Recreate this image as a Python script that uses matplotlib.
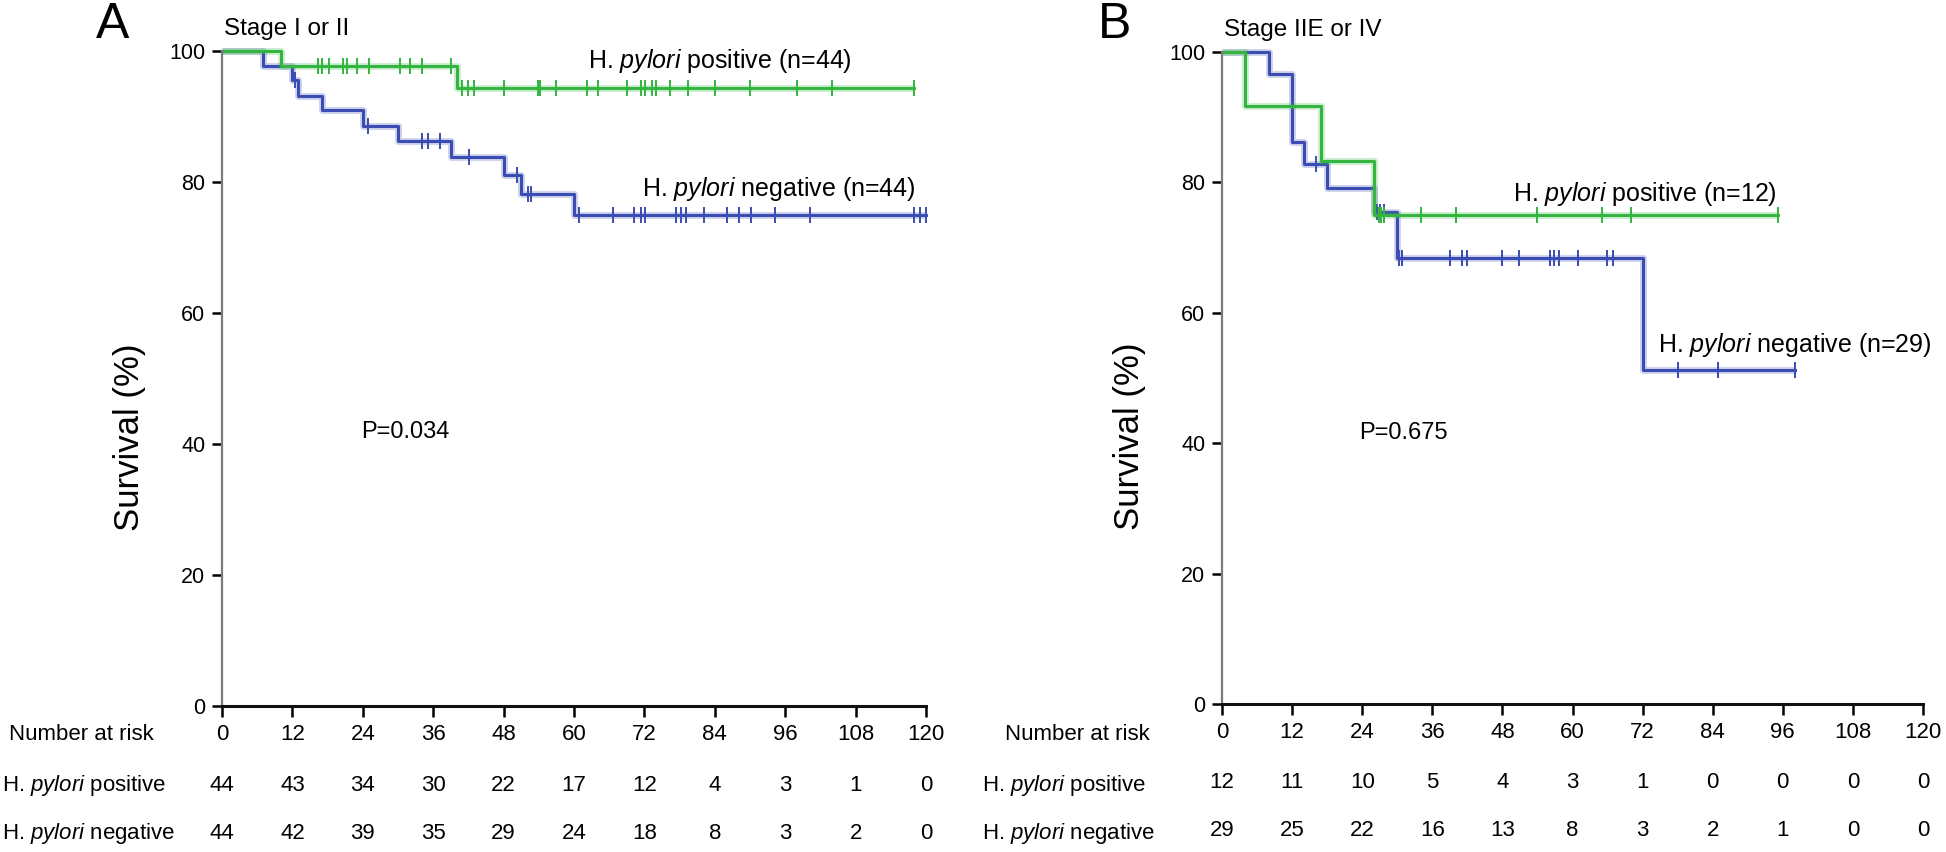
import numpy as np
import matplotlib
matplotlib.use("Agg")
import matplotlib.pyplot as plt

plt.rcParams['font.family'] = ['Liberation Sans', 'DejaVu Sans']
plt.rcParams['mathtext.fontset'] = 'custom'
plt.rcParams['mathtext.rm'] = 'Liberation Sans'
plt.rcParams['mathtext.it'] = 'Liberation Sans:italic'

GREEN = '#34b53f'
BLUE = '#3b4db2'

# ---- panel A : stage I or II ----
a_pos_t = [0, 10, 40, 118]
a_pos_s = [100, 97.7, 94.4, 94.4]
a_pos_c = [16.4, 17.0, 18.2, 20.7, 21.3, 23.0, 25.0, 30.3, 32.0, 34.1, 39.0, 40.9, 41.9, 43.0,
           48.1, 53.9, 54.2, 56.9, 62.2, 64.1, 69.0, 71.4, 72.1, 73.3, 74.0, 76.4, 79.4,
           84.0, 90.0, 98.0, 104.0, 118.0]

a_neg_t = [0, 7, 12, 13, 17, 24, 30, 39, 48, 51, 60, 120]
a_neg_s = [100, 97.7, 95.5, 93.2, 91.0, 88.6, 86.3, 83.8, 81.0, 78.2, 75.0, 75.0]
a_neg_c = [12.4, 24.9, 34.1, 35.1, 37.1, 42.1, 50.3, 52.2, 52.7, 60.9, 66.6, 70.3, 71.4, 72.1,
           77.4, 78.3, 79.1, 82.2, 86.1, 88.2, 90.1, 94.2, 100.2, 118.0, 118.9, 120.0]

a_risk_pos = [44, 43, 34, 30, 22, 17, 12, 4, 3, 1, 0]
a_risk_neg = [44, 42, 39, 35, 29, 24, 18, 8, 3, 2, 0]

# ---- panel B : stage IIE or IV ----
b_pos_t = [0, 4, 17, 26, 95.2]
b_pos_s = [100, 91.7, 83.3, 75.0, 75.0]
b_pos_c = [26.8, 27.3, 27.8, 34.0, 40.0, 54.0, 65.1, 70.0, 95.2]

b_neg_t = [0, 8, 12, 14, 18, 26, 30, 72, 98.1]
b_neg_s = [100, 96.6, 86.2, 82.8, 79.2, 75.5, 68.4, 51.3, 51.3]
b_neg_c = [16.1, 26.5, 27.0, 27.7, 30.3, 30.8, 39.0, 41.1, 41.9, 48.0, 50.9, 56.1, 56.8, 57.7,
           60.9, 65.9, 66.9, 78.1, 84.9, 98.1]

b_risk_pos = [12, 11, 10, 5, 4, 3, 1, 0, 0, 0, 0]
b_risk_neg = [29, 25, 22, 16, 13, 8, 3, 2, 1, 0, 0]

months = list(range(0, 121, 12))
yticks = [0, 20, 40, 60, 80, 100]

POS = r'H. $\it{pylori}$ positive'
NEG = r'H. $\it{pylori}$ negative'


def draw_km(ax, t, s, cens, color):
    t = np.array(t)
    s = np.array(s)
    ax.step(t, s, where='post', color=color, lw=5, alpha=0.25, clip_on=False, solid_capstyle='butt')
    ax.step(t, s, where='post', color=color, lw=2.2, clip_on=False)
    idx = np.searchsorted(t, cens, side='right') - 1
    ax.plot(cens, s[idx], '|', color=color, ms=11, mew=1.4, clip_on=False)


def setup(ax, risk_pos, risk_neg, row_x, nar_x, title, letter, letter_x):
    ax.set_xlim(0, 120)
    ax.set_ylim(0, 100)
    for side in ['top', 'right']:
        ax.spines[side].set_visible(False)
    ax.spines['left'].set_color('#7a7a7a')
    ax.spines['left'].set_linewidth(1.6)
    ax.spines['bottom'].set_color('#111111')
    ax.spines['bottom'].set_linewidth(2.2)
    ax.set_yticks(yticks)
    ax.set_yticklabels([str(v) for v in yticks], fontsize=15.5)
    ax.tick_params(axis='y', length=7, width=1.8, pad=5)
    ax.set_xticks(months)
    ax.set_xticklabels([])
    ax.tick_params(axis='x', length=8, width=1.8)
    ax.set_ylabel('Survival (%)', fontsize=25)
    ax.yaxis.set_label_coords(-0.108, 0.41)

    tr = ax.get_xaxis_transform()
    for i, m in enumerate(months):
        ax.text(m, -0.044, str(m), transform=tr, ha='center', va='center', fontsize=16)
        ax.text(m, -0.121, str(risk_pos[i]), transform=tr, ha='center', va='center', fontsize=16)
        ax.text(m, -0.194, str(risk_neg[i]), transform=tr, ha='center', va='center', fontsize=16)

    fig.text(nar_x, 1 - 735 / 852, 'Number at risk', ha='left', va='center', fontsize=16)
    fig.text(row_x, 1 - 785 / 852, POS, ha='left', va='center', fontsize=16)
    fig.text(row_x, 1 - 833 / 852, NEG, ha='left', va='center', fontsize=16)

    ax.text(0.3, 103.4, title, ha='left', va='center', fontsize=17.5, clip_on=False)
    fig.text(letter_x, 1 - 25 / 852, letter, ha='center', va='center', fontsize=36)


fig = plt.figure(figsize=(19.46, 8.52), dpi=100)
axA = fig.add_axes([222 / 1946, 1 - 706 / 852, 704 / 1946, 655 / 852])
axB = fig.add_axes([1222 / 1946, 1 - 704 / 852, 701 / 1946, 652 / 852])

draw_km(axA, a_neg_t, a_neg_s, a_neg_c, BLUE)
draw_km(axA, a_pos_t, a_pos_s, a_pos_c, GREEN)
setup(axA, a_risk_pos, a_risk_neg, 2 / 1946, 9 / 1946, 'Stage I or II', 'A', 113 / 1946)
axA.text(62.4, 98.4, POS + ' (n=44)', ha='left', va='center', fontsize=18)
axA.text(71.6, 79.0, NEG + ' (n=44)', ha='left', va='center', fontsize=18)
axA.text(23.7, 41.8, 'P=0.034', ha='left', va='center', fontsize=17)

draw_km(axB, b_neg_t, b_neg_s, b_neg_c, BLUE)
draw_km(axB, b_pos_t, b_pos_s, b_pos_c, GREEN)
setup(axB, b_risk_pos, b_risk_neg, 982 / 1946, 1005 / 1946, 'Stage IIE or IV', 'B', 1115 / 1946)
axB.text(49.8, 78.2, POS + ' (n=12)', ha='left', va='center', fontsize=18)
axB.text(74.6, 55.0, NEG + ' (n=29)', ha='left', va='center', fontsize=18)
axB.text(23.5, 41.6, 'P=0.675', ha='left', va='center', fontsize=17)

fig.savefig('out.png', dpi=100)
